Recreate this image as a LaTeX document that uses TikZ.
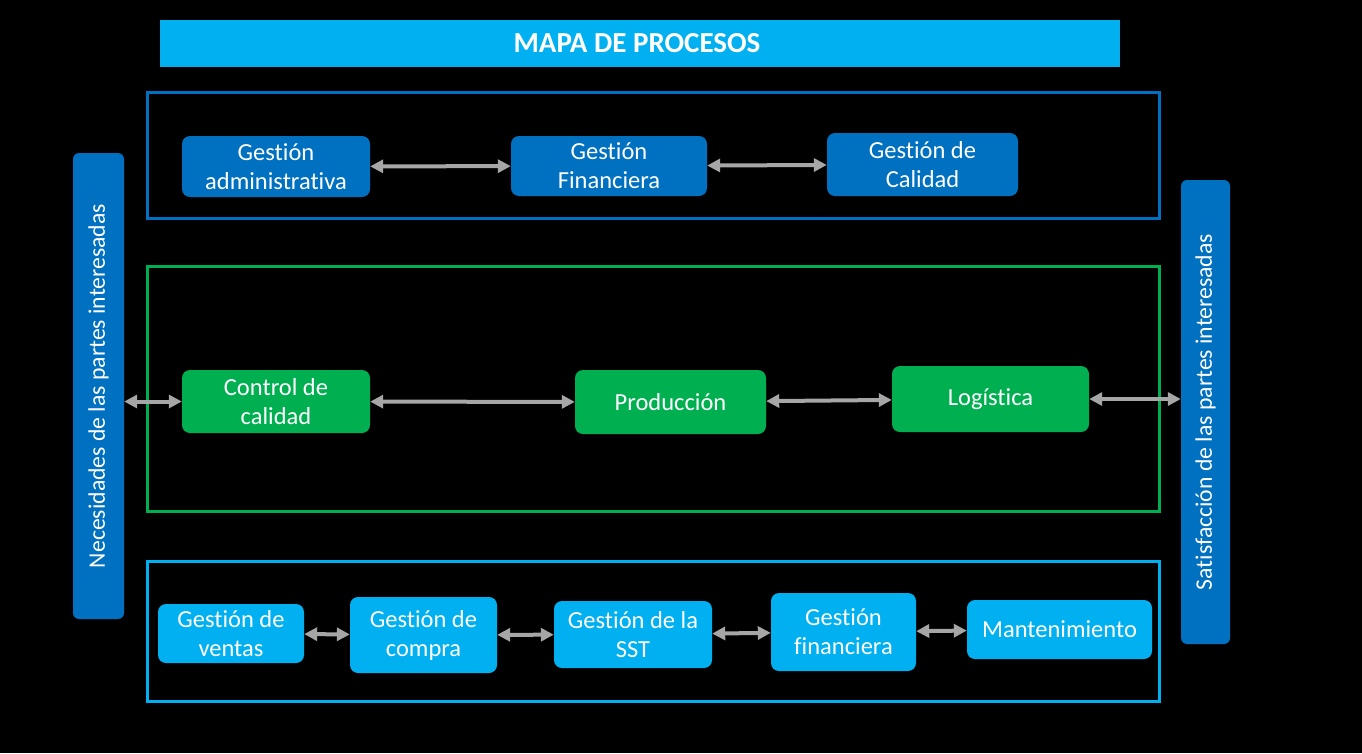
\documentclass[tikz,border=0pt]{standalone}
\usepackage{fontspec}
\setmainfont{Carlito}[Ligatures=NoCommon]
\usetikzlibrary{arrows.meta,positioning}

\definecolor{azul}{HTML}{0070C0}
\definecolor{verde}{HTML}{00B050}
\definecolor{celeste}{HTML}{00B0F0}
\definecolor{gris}{HTML}{A6A6A6}

\tikzset{
  proc/.style={rounded corners=8pt, text=white, align=center, inner sep=0pt,
               font=\fontsize{24.5}{29}\selectfont},
  estr/.style={proc, fill=azul},
  oper/.style={proc, fill=verde},
  sopo/.style={proc, fill=celeste},
  lado/.style={rounded corners=6pt, fill=azul, text=white, rotate=90, inner sep=0pt,
               font=\fontsize{23.7}{27}\selectfont},
  marco/.style={line width=3pt},
  titulo/.style={text=black, font=\fontsize{20}{24}\selectfont},
  flecha/.style={gris, line width=4pt, {Triangle[length=13pt,width=13pt]}-{Triangle[length=13pt,width=13pt]}}
}

\begin{document}
\begin{tikzpicture}[x=1pt,y=-1pt]

  \fill[black] (0,0) rectangle (1362,753);
  \useasboundingbox (0,0) rectangle (1362,753);

  % titulo
  \node[fill=celeste, minimum width=960pt, minimum height=47pt, inner sep=0pt,
        text=white, font=\fontsize{29}{32}\selectfont\bfseries] (mapa) at (640,43.5) {\hspace*{-6pt}MAPA DE PROCESOS};

  % marcos
  \draw[marco, azul] (147,92) rectangle (1159,218);
  \draw[marco, verde] (147,266) rectangle (1159,511);
  \draw[marco, celeste] (147,561) rectangle (1159,701);

  \node[titulo] (testr) at (652,112) {PROCESOS ESTRATEGICOS};
  \node[titulo] (toper) at (652,302) {PROCESOS OPERATIVOS};
  \node[titulo] (tsopo) at (652,585) {PROCESOS DE SOPORTE};

  % partes interesadas
  \node[lado, minimum width=466pt, minimum height=51pt] (nec) at (98.5,386) {Necesidades de las partes interesadas};
  \node[lado, minimum width=464pt, minimum height=49pt] (sat) at (1205.5,412) {Satisfacción de las partes interesadas};

  % procesos estrategicos
  \node[estr, minimum width=188pt, minimum height=61pt] (adm) at (276,166.5) {Gestión\\administrativa};
  \node[estr, minimum width=196pt, minimum height=60pt] (fin) at (609,166) {Gestión\\Financiera};
  \node[estr, minimum width=191pt, minimum height=63pt] (cal) at (922.5,164.5) {Gestión de\\Calidad};

  % procesos operativos
  \node[oper, minimum width=188pt, minimum height=63pt] (ctrl) at (276,401.5) {Control de\\calidad};
  \node[oper, minimum width=191pt, minimum height=64pt] (prod) at (670.5,402) {Producción};
  \node[oper, minimum width=197pt, minimum height=66pt] (log) at (990.5,399) {Logística};

  % procesos de soporte
  \node[sopo, minimum width=146pt, minimum height=59pt] (ven) at (231,633.5) {Gestión de\\ventas};
  \node[sopo, minimum width=147pt, minimum height=76pt] (com) at (423.5,635) {Gestión de\\compra};
  \node[sopo, minimum width=158pt, minimum height=67pt] (sst) at (633,634.5) {Gestión de la\\SST};
  \node[sopo, minimum width=145pt, minimum height=78pt] (finan) at (843.5,632) {Gestión\\financiera};
  \node[sopo, minimum width=185pt, minimum height=59pt] (mant) at (1059.5,629.5) {Mantenimiento};

  % flechas
  \draw[flecha] (adm) -- (fin);
  \draw[flecha] (fin) -- (cal);
  \draw[flecha] (ctrl.west -| nec.south) -- (ctrl.west);
  \draw[flecha] (ctrl) -- (prod);
  \draw[flecha] (prod) -- (log);
  \draw[flecha] (log.east) -- (log.east -| sat.north);
  \draw[flecha] (ven) -- (com);
  \draw[flecha] (com) -- (sst);
  \draw[flecha] (sst) -- (finan);
  \draw[flecha] (finan) -- (mant);

\end{tikzpicture}
\end{document}
